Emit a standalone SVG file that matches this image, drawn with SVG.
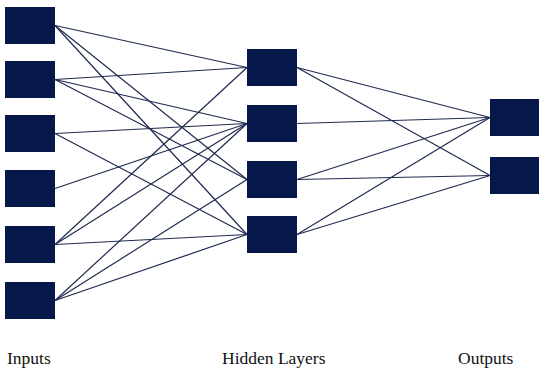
<svg xmlns="http://www.w3.org/2000/svg" width="539" height="374" viewBox="0 0 539 374">
<style>
.n{fill:#06184a}
.c line{stroke:#1f2b4f;stroke-width:1.2}
.t{font-family:"Liberation Serif","Times New Roman",serif;font-size:17.5px;fill:#111}
</style>
<rect width="539" height="374" fill="#fff"/>
<g class="c" id="connectors">
<line x1="55" y1="25.5" x2="247" y2="67.5"/>
<line x1="55" y1="25.5" x2="247" y2="179.5"/>
<line x1="55" y1="25.5" x2="247" y2="234.5"/>
<line x1="55" y1="79.5" x2="247" y2="67.5"/>
<line x1="55" y1="79.5" x2="247" y2="123.5"/>
<line x1="55" y1="79.5" x2="247" y2="179.5"/>
<line x1="55" y1="133.5" x2="247" y2="123.5"/>
<line x1="55" y1="133.5" x2="247" y2="234.5"/>
<line x1="55" y1="188.5" x2="247" y2="123.5"/>
<line x1="55" y1="244.5" x2="247" y2="67.5"/>
<line x1="55" y1="244.5" x2="247" y2="123.5"/>
<line x1="55" y1="244.5" x2="247" y2="234.5"/>
<line x1="55" y1="300.5" x2="247" y2="123.5"/>
<line x1="55" y1="300.5" x2="247" y2="179.5"/>
<line x1="55" y1="300.5" x2="247" y2="234.5"/>
<line x1="297" y1="67.5" x2="490" y2="117.5"/>
<line x1="297" y1="67.5" x2="490" y2="175.5"/>
<line x1="297" y1="123.5" x2="490" y2="117.5"/>
<line x1="297" y1="179.5" x2="490" y2="117.5"/>
<line x1="297" y1="179.5" x2="490" y2="175.5"/>
<line x1="297" y1="234.5" x2="490" y2="117.5"/>
<line x1="297" y1="234.5" x2="490" y2="175.5"/>
</g>
<g id="in1"><rect class="n" x="5" y="7" width="50" height="37"/></g>
<g id="in2"><rect class="n" x="5" y="61" width="50" height="37"/></g>
<g id="in3"><rect class="n" x="5" y="115" width="50" height="37"/></g>
<g id="in4"><rect class="n" x="5" y="170" width="50" height="37"/></g>
<g id="in5"><rect class="n" x="5" y="226" width="50" height="37"/></g>
<g id="in6"><rect class="n" x="5" y="282" width="50" height="37"/></g>
<g id="h1"><rect class="n" x="247" y="49" width="50" height="37"/></g>
<g id="h2"><rect class="n" x="247" y="105" width="50" height="37"/></g>
<g id="h3"><rect class="n" x="247" y="161" width="50" height="37"/></g>
<g id="h4"><rect class="n" x="247" y="216" width="50" height="37"/></g>
<g id="o1"><rect class="n" x="490" y="99" width="49" height="37"/></g>
<g id="o2"><rect class="n" x="490" y="157" width="49" height="37"/></g>
<g id="labels">
<text class="t" x="7" y="364">Inputs</text>
<text class="t" x="222" y="364">Hidden Layers</text>
<text class="t" x="458" y="364">Outputs</text>
</g>
</svg>
